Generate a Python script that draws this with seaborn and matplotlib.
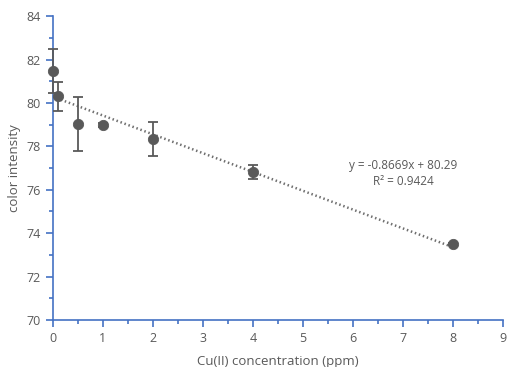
import numpy as np
import pandas as pd
import seaborn as sns
from matplotlib import pyplot as plt
from matplotlib.ticker import MultipleLocator

# 数据
conc = [0, 0.1, 0.5, 1, 2, 4, 8]
intensity = [81.47, 80.3, 79.03, 79.0, 78.34, 76.82, 73.5]
err = [1.0, 0.65, 1.23, 0.1, 0.8, 0.3, 0.05]
slope = -0.8669
intercept = 80.29
eq_text = 'y = -0.8669x + 80.29\nR² = 0.9424'

sns.set_style('white')
plt.rcParams['font.family'] = ['Open Sans', 'DejaVu Sans']

df = pd.DataFrame({'conc': conc, 'intensity': intensity})
grey = '#595959'
axis_c = '#4472C4'

fig = plt.figure(figsize=(5.08, 3.67), dpi=100)
ax = fig.add_axes([0.104, 0.128, 0.886, 0.828])

# 趋势线
xl = np.array([0, 8])
trend = pd.DataFrame({'x': xl, 'y': slope * xl + intercept})
sns.lineplot(data=trend, x='x', y='y', ax=ax, color='#6f6f6f', lw=1.8,
             linestyle=(0, (0.6, 1.1)), zorder=1)

eb = ax.errorbar(conc, intensity, yerr=err, fmt='none', ecolor=grey, elinewidth=1.3,
                 capsize=3.5, capthick=1.3, zorder=2)
for art in eb.lines[1] + eb.lines[2]:
    art.set_clip_on(False)
sns.scatterplot(data=df, x='conc', y='intensity', ax=ax, color=grey, s=55,
                edgecolor=grey, zorder=3, clip_on=False)

ax.text(7.0, 76.75, eq_text, ha='center', va='center', fontsize=8.5, color=grey,
        linespacing=1.25)

ax.set_xlim(0, 9)
ax.set_ylim(70, 84)
ax.xaxis.set_major_locator(MultipleLocator(1))
ax.xaxis.set_minor_locator(MultipleLocator(0.5))
ax.yaxis.set_major_locator(MultipleLocator(2))
ax.yaxis.set_minor_locator(MultipleLocator(1))

for s in ['top', 'right']:
    ax.spines[s].set_visible(False)
for s in ['left', 'bottom']:
    ax.spines[s].set_color(axis_c)
    ax.spines[s].set_linewidth(1.2)
    ax.spines[s].set_zorder(1.5)
ax.tick_params(which='both', direction='out', color=axis_c, width=1.2,
               labelcolor=grey, labelsize=9, left=True, bottom=True)
ax.tick_params(which='major', length=5)
ax.tick_params(which='minor', length=3)

ax.set_xlabel('Cu(II) concentration (ppm)', fontsize=9.5, color=grey, labelpad=7)
ax.set_ylabel('color intensity', fontsize=9.5, color=grey)

plt.savefig('out.png', dpi=100)
